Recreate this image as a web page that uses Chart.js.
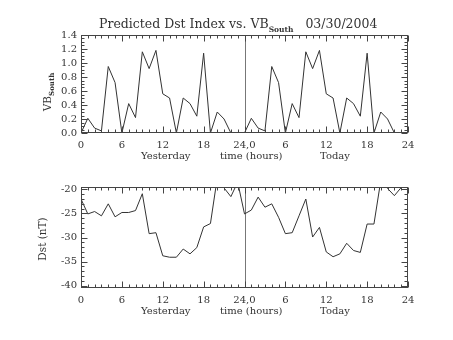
<!DOCTYPE html>
<html>
<head>
<meta charset="utf-8">
<script src="https://cdn.jsdelivr.net/npm/chart.js@4.4.0/dist/chart.umd.min.js"></script>
<style>
  body { margin: 0; background: #fff; }
  #wrap { position: relative; width: 453px; height: 340px; overflow: hidden;
          font-family: 'DejaVu Serif', serif; color: #333; }
  canvas { position: absolute; left: 0; }
  .lbl { position: absolute; white-space: pre; font-size: 10px; line-height: 1; }
  .rot { transform: translate(-50%, -50%) rotate(-90deg); }
  .sub { font-size: 7px; font-weight: bold; position: relative; top: 3px; }
</style>
</head>
<body>
<div id="wrap">
  <canvas id="vbChart" width="453" height="165" style="top:0"></canvas>
  <canvas id="dstChart" width="453" height="175" style="top:165px"></canvas>

  <div class="lbl" style="left:99px;top:18px;font-size:12.5px">Predicted Dst Index vs. VB<span class="sub" style="font-size:7.5px;top:4px">South</span>   03/30/2004</div>

  <div class="lbl rot" style="left:47px;top:92px;font-size:10.5px">VB<span class="sub">South</span></div>
  <div class="lbl rot" style="left:42px;top:239px;font-size:10.5px">Dst (nT)</div>

  <div class="lbl" style="left:141px;top:151px">Yesterday</div>
  <div class="lbl" style="left:220px;top:151px">time (hours)</div>
  <div class="lbl" style="left:320px;top:151px">Today</div>

  <div class="lbl" style="left:141px;top:306px">Yesterday</div>
  <div class="lbl" style="left:220px;top:306px">time (hours)</div>
  <div class="lbl" style="left:320px;top:306px">Today</div>
</div>

<script>
// hour of day for each reading (same for both days)
const hours = [0, 1, 2, 3, 4, 5, 6, 7, 8, 9, 10, 11, 12, 13, 14, 15, 16, 17, 18, 19, 20, 21, 22, 23];

// VB South, yesterday and today
const vbYesterday = [0.0, 0.21, 0.07, 0.03, 0.95, 0.72, 0.0, 0.42, 0.22, 1.16, 0.92, 1.18,
                     0.56, 0.50, 0.0, 0.50, 0.42, 0.24, 1.14, 0.0, 0.30, 0.20, 0.0, 0.0];
const vbToday     = [0.0, 0.21, 0.07, 0.03, 0.95, 0.72, 0.0, 0.42, 0.22, 1.16, 0.92, 1.18,
                     0.56, 0.50, 0.0, 0.50, 0.42, 0.24, 1.14, 0.0, 0.30, 0.20, 0.0, 0.0];

// Dst (nT), yesterday and today
const dstYesterday = [-22.0, -25.1, -24.6, -25.5, -23.0, -25.7, -24.8, -24.8, -24.4, -20.9, -29.2, -29.0,
                      -33.8, -34.1, -34.1, -32.4, -33.4, -32.1, -27.8, -27.1, -17.6, -19.7, -21.5, -18.5];
const dstToday     = [-25.1, -24.3, -21.6, -23.7, -23.0, -25.8, -29.2, -29.0, -25.5, -22.0, -29.9, -27.9,
                      -33.0, -34.0, -33.4, -31.2, -32.7, -33.1, -27.2, -27.2, -18.2, -19.8, -21.3, -19.6];

// axis ticks
const xTicks = [0, 6, 12, 18, 24, 30, 36, 42, 48];
const xTickLabels = ['0', '6', '12', '18', '24,0', '6', '12', '18', '24'];
const vbTicks = [0, 0.2, 0.4, 0.6, 0.8, 1.0, 1.2, 1.4];
const dstTicks = [-40, -35, -30, -25, -20];

function twoDays(day1, day2) {
    const pts = hours.map((h, i) => ({ x: h, y: day1[i] }));
    return pts.concat(hours.map((h, i) => ({ x: h + 24, y: day2[i] })));
}

Chart.defaults.font.family = "'DejaVu Serif', serif";
Chart.defaults.font.size = 10;
Chart.defaults.color = '#333';

// IDL style box: frame, inward ticks on all sides, divider at midnight
const idlBox = {
    id: 'idlBox',
    beforeDatasetsDraw(chart) {
        const { ctx, chartArea: a, scales: { x } } = chart;
        const xd = Math.round(x.getPixelForValue(24)) + 0.5;
        ctx.save();
        ctx.strokeStyle = '#777';
        ctx.lineWidth = 1;
        ctx.beginPath();
        ctx.moveTo(xd, a.top);
        ctx.lineTo(xd, a.bottom);
        ctx.stroke();
        ctx.restore();
    },
    afterDatasetsDraw(chart, args, opts) {
        const { ctx, chartArea: a, scales: { x, y } } = chart;
        ctx.save();
        ctx.strokeStyle = '#444';
        ctx.lineWidth = 1;
        const L = Math.round(a.left) + 0.5, R = Math.round(a.right) - 0.5;
        const T = Math.round(a.top) + 0.5, B = Math.round(a.bottom) - 0.5;
        ctx.strokeRect(L, T, R - L, B - T);
        ctx.beginPath();
        for (let v = x.min; v <= x.max + 1e-9; v += 1) {
            const px = Math.round(x.getPixelForValue(v)) + 0.5;
            const len = v % 6 === 0 ? 6 : 3;
            ctx.moveTo(px, B); ctx.lineTo(px, B - len);
            ctx.moveTo(px, T); ctx.lineTo(px, T + len);
        }
        const st = opts.minor, major = opts.major;
        for (let v = opts.from; v <= opts.to + 1e-9; v += st) {
            const py = Math.round(y.getPixelForValue(v)) + 0.5;
            const r = Math.abs(v / major - Math.round(v / major)) < 1e-6;
            const len = r ? 6 : 3;
            ctx.moveTo(L, py); ctx.lineTo(L + len, py);
            ctx.moveTo(R, py); ctx.lineTo(R - len, py);
        }
        ctx.stroke();
        ctx.restore();
    }
};

function xScale(h) {
    return {
        type: 'linear', min: 0, max: 48,
        afterBuildTicks: s => { s.ticks = xTicks.map(v => ({ value: v })); },
        afterFit: s => { s.height = h; },
        grid: { display: false, drawTicks: false },
        border: { display: false },
        ticks: { padding: 6, maxRotation: 0, autoSkip: false, callback: (v, i) => xTickLabels[i] }
    };
}

function yScale(min, max, ticks, fmt) {
    return {
        min: min, max: max,
        afterBuildTicks: s => { s.ticks = ticks.map(v => ({ value: v })); },
        afterFit: s => { s.width = 81; },
        grid: { display: false, drawTicks: false },
        border: { display: false },
        ticks: { padding: 4, autoSkip: false, font: { size: 10 }, callback: fmt }
    };
}

function lineSet(data) {
    return { data: data, borderColor: '#333', borderWidth: 1, pointRadius: 0,
             tension: 0, fill: false };
}

new Chart(document.getElementById('vbChart'), {
    type: 'line',
    data: { datasets: [lineSet(twoDays(vbYesterday, vbToday))] },
    options: {
        responsive: false, animation: false,
        layout: { padding: { top: 35, right: 45, left: 0, bottom: 0 } },
        plugins: { legend: { display: false }, tooltip: { enabled: false },
                   idlBox: { from: 0, to: 1.4, minor: 0.05, major: 0.2 } },
        scales: { x: xScale(32), y: yScale(0, 1.4, vbTicks, v => v.toFixed(1)) }
    },
    plugins: [idlBox]
});

new Chart(document.getElementById('dstChart'), {
    type: 'line',
    data: { datasets: [lineSet(twoDays(dstYesterday, dstToday))] },
    options: {
        responsive: false, animation: false,
        layout: { padding: { top: 22, right: 45, left: 0, bottom: 0 } },
        plugins: { legend: { display: false }, tooltip: { enabled: false },
                   idlBox: { from: -40, to: -20, minor: 1, major: 5 } },
        scales: { x: xScale(52), y: yScale(-40.5, -19.5, dstTicks, v => String(v)) }
    },
    plugins: [idlBox]
});
</script>
</body>
</html>
